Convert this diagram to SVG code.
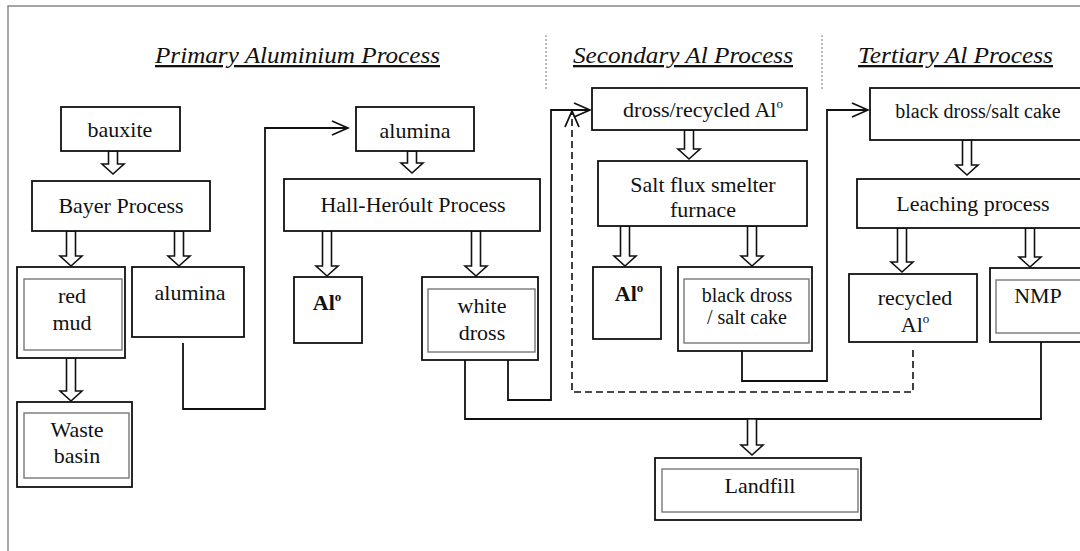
<svg xmlns="http://www.w3.org/2000/svg" width="1080" height="551" viewBox="0 0 1080 551">
<defs>
<style>
.box{fill:#fff;stroke:#111;stroke-width:1.8}
.inner{fill:none;stroke:#777;stroke-width:1.4}
.t{font-family:"Liberation Serif","Times New Roman",serif;font-size:22px;fill:#111;text-anchor:middle}
.s{font-size:20px}
.b{font-weight:bold}
.title{font-family:"Liberation Serif","Times New Roman",serif;font-size:23px;font-style:italic;fill:#111;text-decoration:underline}
.conn{fill:none;stroke:#111;stroke-width:1.8}
.dash{fill:none;stroke:#111;stroke-width:1.6;stroke-dasharray:7 4}
.hollow{fill:#fff;stroke:#111;stroke-width:1.6}
.sep{stroke:#777;stroke-width:1;stroke-dasharray:2 2}
</style>
<marker id="open" markerUnits="userSpaceOnUse" markerWidth="20" markerHeight="20" viewBox="-18 -10 20 20" refX="0" refY="0" orient="auto">
<path d="M-16,-7 L0,0 L-16,7" fill="none" stroke="#111" stroke-width="1.8"/>
</marker>
</defs>
<rect width="1080" height="551" fill="#fff"/>
<path d="M8,551 V6 H1080" fill="none" stroke="#888" stroke-width="1.5"/>

<g id="titles">
<text class="title" x="155" y="63" textLength="285" lengthAdjust="spacingAndGlyphs">Primary Aluminium Process</text>
<text class="title" x="573" y="63" textLength="220" lengthAdjust="spacingAndGlyphs">Secondary Al Process</text>
<text class="title" x="858" y="63" textLength="195" lengthAdjust="spacingAndGlyphs">Tertiary Al Process</text>
<line class="sep" x1="546" y1="35" x2="546" y2="90"/>
<line class="sep" x1="822" y1="35" x2="822" y2="90"/>
</g>

<g id="connectors">
<path class="conn" d="M183,343 V409 H265 V128 H348" marker-end="url(#open)"/>
<path class="conn" d="M508,360 V400 H551 V110 H590" marker-end="url(#open)"/>
<path class="conn" d="M742,351 V381 H827 V110 H868" marker-end="url(#open)"/>
<path class="dash" d="M913,350 V392 H572 V111" marker-end="url(#open)"/>
<path class="conn" d="M465,360 V419 H1041 V342"/>
<path class="hollow" d="M108.5,151 V164 H102 L113,174 L124,164 H117.5 V151 Z"/>
<path class="hollow" d="M66.5,231 V256 H60 L71,266 L82,256 H75.5 V231 Z"/>
<path class="hollow" d="M174.5,231 V256 H168 L179,266 L190,256 H183.5 V231 Z"/>
<path class="hollow" d="M66.5,358 V391 H60 L71,401 L82,391 H75.5 V358 Z"/>
<path class="hollow" d="M407.5,151 V163 H401 L412,173 L423,163 H416.5 V151 Z"/>
<path class="hollow" d="M322.5,231 V266 H316 L327,276 L338,266 H331.5 V231 Z"/>
<path class="hollow" d="M471.5,231 V266 H465 L476,276 L487,266 H480.5 V231 Z"/>
<path class="hollow" d="M684.5,130 V149 H678 L689,159 L700,149 H693.5 V130 Z"/>
<path class="hollow" d="M620.5,226 V256 H614 L625,266 L636,256 H629.5 V226 Z"/>
<path class="hollow" d="M747.5,226 V256 H741 L752,266 L763,256 H756.5 V226 Z"/>
<path class="hollow" d="M962.5,140 V165 H956 L967,175 L978,165 H971.5 V140 Z"/>
<path class="hollow" d="M897.5,228 V262 H891 L902,272 L913,262 H906.5 V228 Z"/>
<path class="hollow" d="M1025.5,228 V257 H1019 L1030,267 L1041,257 H1034.5 V228 Z"/>
<path class="hollow" d="M747.5,419 V445 H741 L752,455 L763,445 H756.5 V419 Z"/>
</g>

<g id="bauxite"><rect class="box" x="61" y="107" width="119" height="44"/><text class="t" x="120" y="137">bauxite</text></g>
<g id="bayer"><rect class="box" x="32" y="181" width="178" height="50"/><text class="t" x="121" y="213">Bayer Process</text></g>
<g id="redmud"><rect class="box" x="17" y="267" width="108" height="91"/><rect class="inner" x="24" y="279" width="98" height="71"/><text class="t" x="72" y="303">red</text><text class="t" x="72" y="330">mud</text></g>
<g id="alumina1"><rect class="box" x="132" y="267" width="112" height="70"/><text class="t" x="190" y="300">alumina</text></g>
<g id="waste"><rect class="box" x="17" y="402" width="115" height="85"/><rect class="inner" x="24" y="413" width="105" height="65"/><text class="t" x="77" y="437">Waste</text><text class="t" x="77" y="463">basin</text></g>
<g id="alumina2"><rect class="box" x="356" y="107" width="118" height="44"/><text class="t" x="415" y="138">alumina</text></g>
<g id="hall"><rect class="box" x="284" y="179" width="256" height="52"/><text class="t" x="413" y="212">Hall-Heróult Process</text></g>
<g id="al1"><rect class="box" x="294" y="277" width="68" height="66"/><text class="t b" x="327" y="310">Al<tspan dy="-9" font-size="13">o</tspan></text></g>
<g id="whitedross"><rect class="box" x="422" y="277" width="116" height="83"/><rect class="inner" x="428" y="289" width="107" height="63"/><text class="t" x="482" y="313">white</text><text class="t" x="482" y="340">dross</text></g>
<g id="drossrecycled"><rect class="box" x="592" y="88" width="215" height="42"/><text class="t" x="703" y="117">dross/recycled Al<tspan dy="-9" font-size="13">o</tspan></text></g>
<g id="saltflux"><rect class="box" x="598" y="161" width="209" height="65"/><text class="t" x="703" y="192">Salt flux smelter</text><text class="t" x="703" y="217">furnace</text></g>
<g id="al2"><rect class="box" x="593" y="267" width="68" height="72"/><text class="t b" x="629" y="301">Al<tspan dy="-9" font-size="13">o</tspan></text></g>
<g id="blackdross1"><rect class="box" x="678" y="267" width="134" height="84"/><rect class="inner" x="684" y="279" width="125" height="64"/><text class="t s" x="747" y="302">black dross</text><text class="t s" x="747" y="324">/ salt cake</text></g>
<g id="blackdross2"><rect class="box" x="870" y="88" width="215" height="52"/><text class="t s" x="978" y="118">black dross/salt cake</text></g>
<g id="leaching"><rect class="box" x="857" y="179" width="230" height="49"/><text class="t" x="973" y="211">Leaching process</text></g>
<g id="recycledal"><rect class="box" x="849" y="274" width="128" height="68"/><text class="t" x="915" y="305">recycled</text><text class="t" x="915" y="332">Al<tspan dy="-9" font-size="13">o</tspan></text></g>
<g id="nmp"><rect class="box" x="990" y="268" width="95" height="74"/><rect class="inner" x="996" y="280" width="90" height="53"/><text class="t" x="1038" y="303">NMP</text></g>
<g id="landfill"><rect class="box" x="655" y="458" width="206" height="62"/><rect class="inner" x="662" y="469" width="196" height="43"/><text class="t" x="760" y="493">Landfill</text></g>
</svg>
